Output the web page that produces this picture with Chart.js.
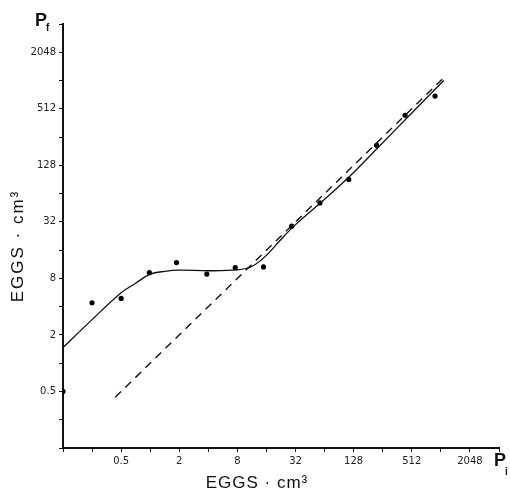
<!DOCTYPE html>
<html>
<head>
<meta charset="utf-8">
<script src="https://cdn.jsdelivr.net/npm/chart.js@4/dist/chart.umd.min.js"></script>
<style>
  html, body { margin: 0; padding: 0; background: #fff; }
  #wrap { width: 510px; height: 493px; position: relative; }
</style>
</head>
<body>
<div id="wrap"><canvas id="c"></canvas></div>
<script>
// ---- data ----
const tickValues = [0.125, 0.25, 0.5, 1, 2, 4, 8, 16, 32, 64, 128, 256, 512, 1024, 2048, 4096];
const tickLabels = ["0.5", "2", "8", "32", "128", "512", "2048"];
const tickLabelValues = [0.5, 2, 8, 32, 128, 512, 2048];

// observed points (Pi, Pf)
const obsX = [0.125, 0.25, 0.5, 0.98, 1.87, 3.86, 7.6, 14.9, 29.2, 57.3, 113.8, 221, 436, 891];
const obsY = [0.5, 4.4, 4.9, 9.2, 11.8, 8.9, 10.4, 10.6, 28.8, 50.9, 90.5, 209, 436, 699];

// fitted curve (solid)
const fitX = [0.125, 0.25, 0.5, 0.707, 1, 1.414, 2, 4, 8, 11.3, 16, 22.6, 32, 64, 128, 256, 512, 1097];
const fitY = [1.464, 2.91, 5.62, 7.11, 8.88, 9.51, 9.78, 9.65, 9.85, 10.7, 14.1, 20.8, 29.9, 55.7, 107.6, 222.9, 461.4, 1024];

// replacement line Pf = Pi (dashed)
const eqX = [0.435, 1085];
const eqY = [0.435, 1085];

const xTitle = "EGGS · cm³";
const yTitle = "EGGS · cm³";

const toPts = (xs, ys) => xs.map((x, i) => ({ x: x, y: ys[i] }));

const titlePlugin = {
  id: 'titles',
  afterDraw(chart) {
    const ctx = chart.ctx;
    ctx.save();
    ctx.fillStyle = '#111';
    ctx.textAlign = 'center';
    ctx.textBaseline = 'middle';
    ctx.font = '17px "Liberation Sans", Arial, sans-serif';
    try { ctx.letterSpacing = '1px'; } catch (e) {}
    ctx.fillText(xTitle, 257, 483);
    ctx.save();
    ctx.translate(18, 246);
    ctx.rotate(-Math.PI / 2);
    try { ctx.letterSpacing = '2px'; } catch (e) {}
    ctx.fillText(yTitle, 0, 0);
    ctx.restore();
    try { ctx.letterSpacing = '0px'; } catch (e) {}
    ctx.textAlign = 'left';
    ctx.textBaseline = 'alphabetic';
    ctx.font = 'bold 18px "Liberation Sans", Arial, sans-serif';
    ctx.fillText('P', 35, 26);
    ctx.fillText('P', 494, 466);
    ctx.font = 'bold 10px "Liberation Sans", Arial, sans-serif';
    ctx.fillText('f', 46, 31);
    ctx.fillText('i', 505, 475);
    ctx.restore();
  }
};

const tickCb = function (value) {
  const i = tickLabelValues.findIndex(v => Math.abs(v - value) / v < 1e-6);
  return i >= 0 ? tickLabels[i] : '';
};

const axisCommon = {
  type: 'logarithmic',
  min: 0.125,
  max: 4096,
  afterBuildTicks: (scale) => { scale.ticks = tickValues.map(v => ({ value: v })); },
  ticks: {
    autoSkip: false,
    maxRotation: 0,
    minRotation: 0,
    color: '#222',
    font: { family: '"DejaVu Sans", sans-serif', size: 10 },
    callback: tickCb,
    padding: 3
  },
  grid: { display: true, drawOnChartArea: false, drawTicks: true, tickLength: 4, color: '#111', lineWidth: 1 },
  border: { display: true, color: '#111', width: 2 }
};

new Chart(document.getElementById('c'), {
  type: 'scatter',
  data: {
    datasets: [
      {
        type: 'line',
        data: toPts(fitX, fitY),
        borderColor: '#111',
        borderWidth: 1.3,
        pointRadius: 0,
        fill: false,
        tension: 0.35
      },
      {
        type: 'line',
        data: toPts(eqX, eqY),
        borderColor: '#111',
        borderWidth: 1.4,
        borderDash: [8, 6],
        pointRadius: 0,
        fill: false
      },
      {
        type: 'scatter',
        data: toPts(obsX, obsY),
        backgroundColor: '#000',
        borderColor: '#000',
        pointRadius: 2.6,
        borderWidth: 0
      }
    ]
  },
  options: {
    responsive: true,
    maintainAspectRatio: false,
    animation: false,
    layout: { padding: { left: 0, right: 11, top: 24, bottom: 0 } },
    plugins: { legend: { display: false }, tooltip: { enabled: false } },
    scales: {
      x: Object.assign({}, axisCommon, {
        position: 'bottom',
        afterFit: (s) => { s.height = 45; }
      }),
      y: Object.assign({}, axisCommon, {
        position: 'left',
        afterFit: (s) => { s.width = 63; }
      })
    }
  },
  plugins: [titlePlugin]
});
</script>
</body>
</html>
